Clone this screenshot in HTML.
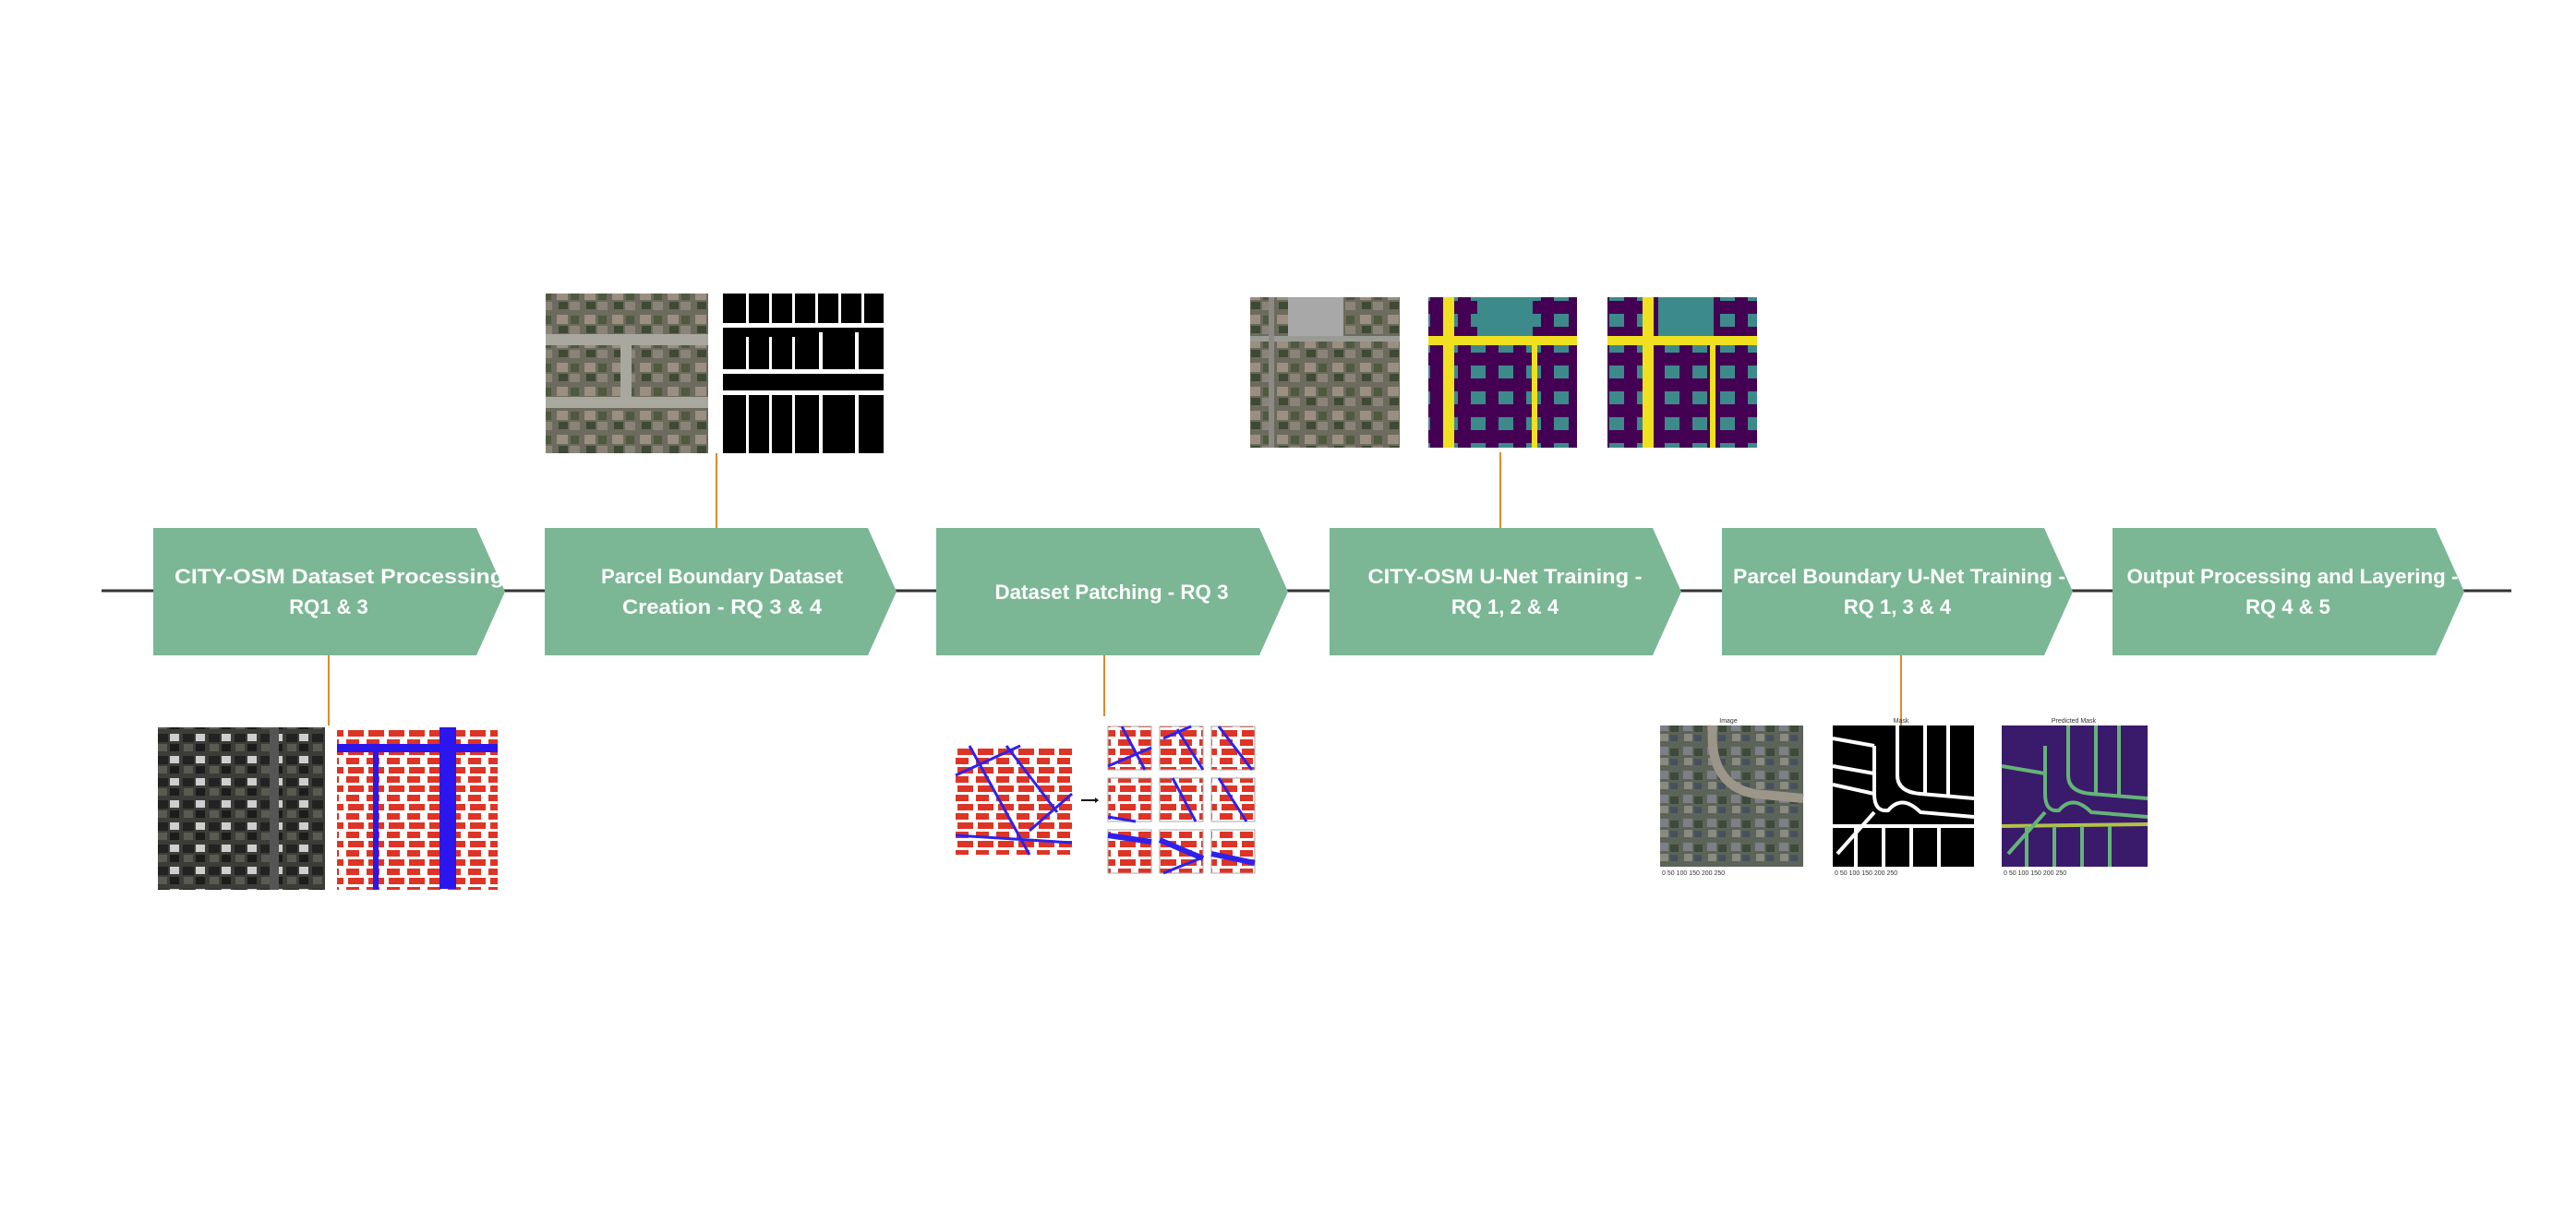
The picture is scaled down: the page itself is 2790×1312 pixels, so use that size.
<!DOCTYPE html>
<html><head><meta charset="utf-8"><style>
html,body{margin:0;padding:0;background:#fff;}
svg{display:block;}
text{font-family:"Liberation Sans",sans-serif;}
</style></head><body>
<svg width="2790" height="1312" viewBox="0 0 2790 1312" xmlns="http://www.w3.org/2000/svg">
<defs>
<pattern id="aer" width="30" height="26" patternUnits="userSpaceOnUse">
<rect width="30" height="26" fill="#6d6a5e"/><rect x="3" y="3" width="12" height="10" fill="#9a8f80"/><rect x="18" y="4" width="9" height="9" fill="#4d5a3e"/><rect x="5" y="15" width="10" height="8" fill="#3e4a34"/><rect x="17" y="15" width="11" height="9" fill="#8a8478"/></pattern>
<pattern id="aerd" width="28" height="24" patternUnits="userSpaceOnUse">
<rect width="28" height="24" fill="#3c3c38"/><rect x="2" y="3" width="12" height="9" fill="#222"/><rect x="16" y="3" width="10" height="8" fill="#cfcfcf"/><rect x="3" y="14" width="10" height="8" fill="#5a5a50"/><rect x="16" y="14" width="10" height="8" fill="#1c1c1c"/></pattern>
<pattern id="aer5" width="26" height="26" patternUnits="userSpaceOnUse">
<rect width="26" height="26" fill="#5c6459"/><rect x="3" y="3" width="10" height="9" fill="#7d7f86"/><rect x="15" y="5" width="9" height="8" fill="#3d4a3a"/><rect x="4" y="15" width="9" height="8" fill="#8a8a80"/><rect x="15" y="16" width="8" height="7" fill="#46505e"/></pattern>
<pattern id="redb" width="22" height="20" patternUnits="userSpaceOnUse">
<rect width="22" height="20" fill="#fff"/><rect x="1" y="1" width="14" height="7" fill="#de3426"/><rect x="3" y="11" width="17" height="7" fill="#de3426"/></pattern>
<pattern id="teal" width="30" height="28" patternUnits="userSpaceOnUse">
<rect width="30" height="28" fill="#440154"/><rect x="3" y="4" width="16" height="14" fill="#3d8a8a"/></pattern>
</defs>

<line x1="110" y1="640" x2="2720" y2="640" stroke="#333" stroke-width="3"/>

<g fill="#7bb794">
<polygon points="166,572 516,572 547,641 516,710 166,710"/>
<polygon points="590,572 940,572 971,641 940,710 590,710"/>
<polygon points="1014,572 1364,572 1395,641 1364,710 1014,710"/>
<polygon points="1440,572 1790,572 1821,641 1790,710 1440,710"/>
<polygon points="1865,572 2214,572 2245,641 2214,710 1865,710"/>
<polygon points="2288,572 2638,572 2669,641 2638,710 2288,710"/>
</g>
<g fill="#fff" font-size="22" font-weight="bold" text-anchor="middle">
<text x="375" y="632" textLength="372" lengthAdjust="spacingAndGlyphs">CITY-OSM Dataset Processing -</text><text x="356" y="665">RQ1 &amp; 3</text>
<text x="782" y="632" textLength="262" lengthAdjust="spacingAndGlyphs">Parcel Boundary Dataset</text><text x="782" y="665" textLength="216" lengthAdjust="spacingAndGlyphs">Creation - RQ 3 &amp; 4</text>
<text x="1204" y="649" textLength="253" lengthAdjust="spacingAndGlyphs">Dataset Patching - RQ 3</text>
<text x="1630" y="632" textLength="297" lengthAdjust="spacingAndGlyphs">CITY-OSM U-Net Training -</text><text x="1630" y="665">RQ 1, 2 &amp; 4</text>
<text x="2057" y="632" textLength="360" lengthAdjust="spacingAndGlyphs">Parcel Boundary U-Net Training -</text><text x="2055" y="665">RQ 1, 3 &amp; 4</text>
<text x="2483" y="632" textLength="359" lengthAdjust="spacingAndGlyphs">Output Processing and Layering -</text><text x="2478" y="665">RQ 4 &amp; 5</text>
</g>

<g stroke="#e08a2c" stroke-width="2">
<line x1="776" y1="491" x2="776" y2="572"/>
<line x1="1625" y1="490" x2="1625" y2="572"/>
<line x1="356" y1="710" x2="356" y2="786"/>
<line x1="1196" y1="710" x2="1196" y2="776"/>
<line x1="2059" y1="710" x2="2059" y2="786"/>
</g>

<rect x="591" y="318" width="176" height="173" fill="url(#aer)"/>
<rect x="591" y="362" width="176" height="12" fill="#a9a89f"/>
<rect x="591" y="430" width="176" height="12" fill="#a9a89f"/>
<rect x="672" y="362" width="12" height="80" fill="#a9a89f"/>
<rect x="783" y="318" width="174" height="173" fill="#000"/>
<g fill="#fff">
<rect x="783" y="350" width="174" height="5"/><rect x="783" y="400" width="174" height="5"/><rect x="783" y="423" width="174" height="5"/>
<rect x="808" y="318" width="3" height="32"/><rect x="833" y="318" width="3" height="32"/><rect x="858" y="318" width="3" height="32"/><rect x="883" y="318" width="3" height="32"/><rect x="908" y="318" width="3" height="32"/><rect x="933" y="318" width="3" height="32"/>
<rect x="808" y="365" width="3" height="35"/><rect x="833" y="365" width="3" height="35"/><rect x="858" y="365" width="3" height="35"/>
<rect x="808" y="428" width="3" height="63"/><rect x="833" y="428" width="3" height="63"/><rect x="858" y="428" width="3" height="63"/>
<rect x="887" y="360" width="4" height="45"/><rect x="926" y="360" width="4" height="45"/>
<rect x="887" y="428" width="4" height="63"/><rect x="926" y="428" width="4" height="63"/>
</g>

<rect x="1354" y="322" width="162" height="163" fill="url(#aer)"/>
<rect x="1395" y="322" width="60" height="42" fill="#a8a8a8"/>
<rect x="1354" y="364" width="162" height="6" fill="#9b9b95"/>
<rect x="1374" y="322" width="6" height="163" fill="#8c8a84"/>
<rect x="1547" y="322" width="161" height="163" fill="url(#teal)"/>
<rect x="1600" y="322" width="60" height="44" fill="#3d8a8a"/>
<rect x="1547" y="364" width="161" height="10" fill="#f0e020"/>
<rect x="1563" y="322" width="12" height="163" fill="#f0e020"/>
<rect x="1659" y="372" width="6" height="113" fill="#f0e020"/>
<rect x="1741" y="322" width="162" height="163" fill="url(#teal)"/>
<rect x="1796" y="322" width="60" height="44" fill="#3d8a8a"/>
<rect x="1741" y="364" width="162" height="10" fill="#f0e020"/>
<rect x="1779" y="322" width="12" height="163" fill="#f0e020"/>
<rect x="1852" y="372" width="6" height="113" fill="#f0e020"/>

<rect x="171" y="788" width="181" height="176" fill="url(#aerd)"/>
<rect x="292" y="788" width="10" height="176" fill="#555"/>
<rect x="365" y="788" width="174" height="176" fill="url(#redb)"/>
<rect x="365" y="806" width="174" height="9" fill="#2b16ee"/>
<rect x="404" y="806" width="6" height="158" fill="#2b16ee"/>
<rect x="476" y="788" width="18" height="175" fill="#2b16ee"/>

<rect x="1035" y="808" width="126" height="118" fill="url(#redb)"/>
<g stroke="#3020ee" stroke-width="3" fill="none">
<line x1="1035" y1="905" x2="1161" y2="913"/><line x1="1050" y1="808" x2="1115" y2="926"/><line x1="1090" y1="808" x2="1145" y2="880"/><line x1="1035" y1="840" x2="1105" y2="808"/><line x1="1115" y1="900" x2="1161" y2="860"/>
</g>
<line x1="1171" y1="867" x2="1186" y2="867" stroke="#111" stroke-width="2"/>
<polygon points="1186,864 1190,867 1186,870" fill="#111"/>
<g stroke="#aaa" stroke-width="1">
<g fill="url(#redb)">
<rect x="1200" y="787" width="47" height="47"/><rect x="1256" y="787" width="47" height="47"/><rect x="1312" y="787" width="47" height="47"/>
<rect x="1200" y="843" width="47" height="47"/><rect x="1256" y="843" width="47" height="47"/><rect x="1312" y="843" width="47" height="47"/>
<rect x="1200" y="899" width="47" height="47"/><rect x="1256" y="899" width="47" height="47"/><rect x="1312" y="899" width="47" height="47"/>
</g></g>
<g stroke="#3020ee" stroke-width="3">
<line x1="1200" y1="830" x2="1247" y2="810"/><line x1="1215" y1="787" x2="1240" y2="834"/><line x1="1260" y1="800" x2="1290" y2="787"/><line x1="1275" y1="790" x2="1303" y2="834"/><line x1="1320" y1="787" x2="1356" y2="834"/><line x1="1270" y1="843" x2="1295" y2="890"/><line x1="1320" y1="843" x2="1350" y2="890"/><line x1="1200" y1="885" x2="1230" y2="890"/><line x1="1200" y1="905" x2="1247" y2="912" stroke-width="6"/><line x1="1256" y1="910" x2="1303" y2="930" stroke-width="6"/><line x1="1260" y1="946" x2="1300" y2="930"/><line x1="1312" y1="925" x2="1359" y2="935" stroke-width="6"/></g>

<g font-size="7" fill="#333" text-anchor="middle"><text x="1872" y="783">Image</text><text x="2059" y="783">Mask</text><text x="2246" y="783">Predicted Mask</text></g>
<rect x="1798" y="786" width="155" height="153" fill="url(#aer5)"/>
<path d="M1855 786 Q1850 850 1900 860 L1953 865" stroke="#9c968a" stroke-width="10" fill="none"/>
<rect x="1985" y="786" width="153" height="153" fill="#000"/>
<g stroke="#fff" stroke-width="4" fill="none">
<path d="M2055 786 L2055 840 Q2055 858 2080 860 L2138 865"/>
<path d="M2030 808 L2030 860 Q2030 880 2045 878 Q2060 860 2080 880 L2138 885"/>
<line x1="1985" y1="895" x2="2138" y2="895"/><line x1="1985" y1="800" x2="2030" y2="808"/><line x1="1985" y1="830" x2="2030" y2="838"/><line x1="1985" y1="850" x2="2030" y2="860"/>
<line x1="2030" y1="880" x2="1990" y2="925"/><line x1="2085" y1="786" x2="2085" y2="860"/><line x1="2110" y1="786" x2="2110" y2="862"/>
<line x1="2010" y1="895" x2="2010" y2="939"/><line x1="2040" y1="895" x2="2040" y2="939"/><line x1="2070" y1="895" x2="2070" y2="939"/><line x1="2100" y1="895" x2="2100" y2="939"/>
</g>
<rect x="2168" y="786" width="158" height="153" fill="#3a1a6a"/>
<g stroke="#6ccf7a" stroke-width="4" fill="none" opacity="0.85">
<path d="M2240 786 L2240 840 Q2240 858 2265 860 L2326 865"/>
<path d="M2215 808 L2215 860 Q2215 880 2230 878 Q2245 860 2265 880 L2326 885"/>
<line x1="2168" y1="895" x2="2326" y2="893" stroke="#c8e040"/><line x1="2168" y1="830" x2="2215" y2="838"/>
<line x1="2215" y1="880" x2="2175" y2="925"/><line x1="2270" y1="786" x2="2270" y2="860"/><line x1="2295" y1="786" x2="2295" y2="862"/>
<line x1="2195" y1="895" x2="2195" y2="939"/><line x1="2225" y1="895" x2="2225" y2="939"/><line x1="2255" y1="895" x2="2255" y2="939"/><line x1="2285" y1="895" x2="2285" y2="939"/>
</g>
<g font-size="7" fill="#333"><text x="1800" y="948">0   50   100   150   200   250</text><text x="1987" y="948">0   50   100   150   200   250</text><text x="2170" y="948">0   50   100   150   200   250</text></g>
</svg>
</body></html>
